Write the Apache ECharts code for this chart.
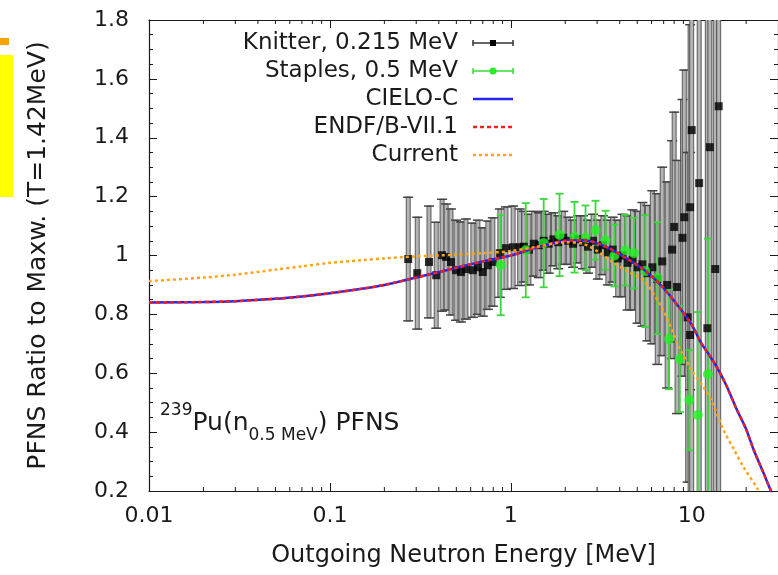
<!DOCTYPE html>
<html>
<head>
<meta charset="utf-8">
<script src="https://cdn.jsdelivr.net/npm/echarts@6/dist/echarts.min.js"></script>
<style>
  html, body { margin: 0; padding: 0; background: #fff; }
  #chart { width: 778px; height: 575px; }
</style>
</head>
<body>
<div id="chart"></div>
<script>
const FONT = 'DejaVu Sans';
const INK = '#1a1a1a';

// axis ticks
const xTickValues = [0.01, 0.1, 1, 10];
const xTickLabels = ['0.01', '0.1', '1', '10'];
const xMinorTicks = [0.02, 0.03, 0.04, 0.05, 0.06, 0.07, 0.08, 0.09,
  0.2, 0.3, 0.4, 0.5, 0.6, 0.7, 0.8, 0.9,
  2, 3, 4, 5, 6, 7, 8, 9, 20];
const yTickValues = [0.2, 0.4, 0.6, 0.8, 1, 1.2, 1.4, 1.6, 1.8];
const yTickLabels = ['0.2', '0.4', '0.6', '0.8', '1', '1.2', '1.4', '1.6', '1.8'];

// Knitter, 0.215 MeV  (energy, ratio, error)
const knitterE = [0.271, 0.304, 0.353, 0.387, 0.417, 0.439, 0.467, 0.498, 0.53, 0.565,
  0.617, 0.658, 0.70, 0.747, 0.796, 0.87, 0.94, 1.03, 1.12, 1.18,
  1.26, 1.34, 1.43, 1.52, 1.62, 1.72, 1.83, 1.95, 2.08, 2.21,
  2.36, 2.51, 2.67, 2.85, 3.03, 3.23, 3.44, 3.66, 3.90, 4.15,
  4.42, 4.71, 5.02, 5.34, 5.69, 6.06, 6.45, 6.87, 7.32, 7.80,
  8.0, 8.3, 8.9, 9.1, 9.5, 9.8, 9.8, 10.0, 11.0, 12.2,
  12.6, 13.5, 14.1];
const knitterV = [0.988, 0.94, 0.978, 0.933, 1.001, 0.995, 0.978, 0.95, 0.944, 0.954,
  0.95, 0.96, 0.944, 0.967, 0.978, 1.008, 1.025, 1.028, 1.028, 1.03,
  1.02, 1.04, 1.035, 1.05, 1.04, 1.055, 1.045, 1.06, 1.05, 1.04,
  1.055, 1.045, 1.03, 1.05, 1.02, 1.035, 1.01, 1.02, 0.99, 1.0,
  0.975, 0.985, 0.96, 0.97, 0.94, 0.96, 0.92, 0.98, 0.90, 1.02,
  1.097, 0.893, 1.06, 1.13, 0.79, 0.73, 1.164, 1.426, 1.246, 0.753,
  1.368, 0.954, 1.507];
const knitterErr = [0.21, 0.19, 0.19, 0.18, 0.19, 0.18, 0.18, 0.17, 0.17, 0.17,
  0.16, 0.16, 0.15, 0.15, 0.15, 0.15, 0.14, 0.14, 0.13, 0.12,
  0.12, 0.11, 0.11, 0.10, 0.10, 0.09, 0.09, 0.09, 0.08, 0.08,
  0.08, 0.09, 0.09, 0.09, 0.10, 0.10, 0.11, 0.11, 0.13, 0.14,
  0.16, 0.17, 0.19, 0.21, 0.23, 0.26, 0.29, 0.32, 0.35, 0.37,
  0.39, 0.43, 0.47, 0.50, 0.56, 0.62, 0.62, 1.8, 2.0, 2.0,
  2.0, 2.0, 2.0];

// Staples, 0.5 MeV
const staplesE = [0.88, 1.21, 1.52, 1.86, 2.25, 2.59, 2.94, 3.34, 3.74, 4.3,
  4.8, 5.54, 6.45, 7.5, 8.6, 9.7, 10.8, 12.3];
const staplesV = [0.967, 1.018, 1.042, 1.07, 1.062, 1.06, 1.086, 1.052, 1.0, 1.018,
  1.008, 0.947, 0.923, 0.716, 0.648, 0.509, 0.458, 0.597];
const staplesErr = [0.17, 0.16, 0.15, 0.14, 0.12, 0.11, 0.10, 0.10, 0.105, 0.12,
  0.12, 0.19, 0.19, 0.17, 0.18, 0.17, 0.35, 0.46];

// evaluations
const cieloE = [0.01, 0.02, 0.03, 0.05, 0.07, 0.1, 0.15, 0.2, 0.3, 0.5, 0.7, 1.0, 1.4, 2.0,
  2.5, 3.0, 3.65, 4.5, 5.5, 6.9, 8.5, 10, 11.2, 12.5, 13.8, 15.5, 17.8, 20, 22, 25, 27, 30];
const cieloV = [0.840, 0.842, 0.845, 0.853, 0.861, 0.872, 0.887, 0.900, 0.925, 0.958, 0.980,
  1.000, 1.028, 1.050, 1.052, 1.042, 1.018, 0.985, 0.950, 0.893, 0.825, 0.765, 0.706, 0.662,
  0.620, 0.560, 0.475, 0.410, 0.340, 0.260, 0.210, 0.150];
const endfE = [0.01, 0.02, 0.03, 0.05, 0.07, 0.1, 0.15, 0.2, 0.3, 0.5, 0.7, 1.0, 1.4, 2.0,
  2.5, 3.0, 3.65, 4.5, 5.5, 6.9, 8.5, 10, 11.2, 12.5, 13.8, 15.5, 17.8, 20, 22, 25, 27, 30];
const endfV = [0.840, 0.842, 0.845, 0.853, 0.861, 0.872, 0.887, 0.900, 0.925, 0.958, 0.980,
  1.000, 1.028, 1.050, 1.052, 1.042, 1.018, 0.985, 0.950, 0.893, 0.825, 0.765, 0.706, 0.662,
  0.620, 0.560, 0.475, 0.410, 0.340, 0.260, 0.210, 0.150];
const currentE = [0.01, 0.02, 0.03, 0.05, 0.07, 0.1, 0.15, 0.2, 0.3, 0.5, 0.7, 1.0, 1.4, 2.0,
  2.5, 3.0, 3.65, 4.5, 5.5, 7.0, 8.5, 10, 11.7, 13, 15, 17, 19.4, 23, 26, 30];
const currentV = [0.913, 0.925, 0.935, 0.952, 0.963, 0.975, 0.984, 0.990, 0.997, 1.003, 1.008,
  1.015, 1.030, 1.045, 1.040, 1.015, 0.978, 0.944, 0.912, 0.810, 0.690, 0.610, 0.550, 0.500,
  0.407, 0.345, 0.280, 0.210, 0.155, 0.100];

const zip = (a, b) => a.map((v, i) => [v, b[i]]);
const zip3 = (a, b, c) => a.map((v, i) => [v, b[i], c[i]]);

function errorBar(kind) {
  return function (params, api) {
    const e = api.value(0), v = api.value(1), d = api.value(2);
    const x = api.coord([e, v])[0];
    const top = api.coord([e, v + d])[1];
    const bot = api.coord([e, v - d])[1];
    if (kind === 'gray') {
      return {
        type: 'group',
        children: [
          { type: 'rect', shape: { x: x - 2, y: top, width: 4, height: bot - top },
            style: { fill: '#b4b4b4', stroke: '#3c3c3c', lineWidth: 0.8 } },
          { type: 'line', shape: { x1: x - 5, y1: top, x2: x + 5, y2: top },
            style: { stroke: '#444', lineWidth: 1.5 } },
          { type: 'line', shape: { x1: x - 5, y1: bot, x2: x + 5, y2: bot },
            style: { stroke: '#444', lineWidth: 1.5 } }
        ]
      };
    }
    return {
      type: 'group',
      children: [
        { type: 'line', shape: { x1: x, y1: top, x2: x, y2: bot },
          style: { stroke: '#3ad83a', lineWidth: 1.8 } },
        { type: 'line', shape: { x1: x - 4, y1: top, x2: x + 4, y2: top },
          style: { stroke: '#3ad83a', lineWidth: 1.8 } },
        { type: 'line', shape: { x1: x - 4, y1: bot, x2: x + 4, y2: bot },
          style: { stroke: '#3ad83a', lineWidth: 1.8 } }
      ]
    };
  };
}

const chart = echarts.init(document.getElementById('chart'));

const legendRows = [
  { name: 'Knitter, 0.215 MeV', y: 43 },
  { name: 'Staples, 0.5 MeV', y: 71 },
  { name: 'CIELO-C', y: 99 },
  { name: 'ENDF/B-VII.1', y: 127 },
  { name: 'Current', y: 155 }
];

const legendGraphics = [];
legendRows.forEach(row => {
  legendGraphics.push({
    type: 'text', x: 458, y: row.y,
    style: { text: row.name, font: '23px ' + FONT, fill: INK, align: 'right', verticalAlign: 'middle' }
  });
});
// legend samples
legendGraphics.push(
  { type: 'line', shape: { x1: 473, y1: 43, x2: 513, y2: 43 }, style: { stroke: '#333', lineWidth: 1.5 } },
  { type: 'line', shape: { x1: 473, y1: 40, x2: 473, y2: 46 }, style: { stroke: '#333', lineWidth: 1.5 } },
  { type: 'line', shape: { x1: 513, y1: 40, x2: 513, y2: 46 }, style: { stroke: '#333', lineWidth: 1.5 } },
  { type: 'rect', shape: { x: 490, y: 40, width: 6, height: 6 }, style: { fill: '#000' } },
  { type: 'line', shape: { x1: 473, y1: 71, x2: 513, y2: 71 }, style: { stroke: '#3ad83a', lineWidth: 1.5 } },
  { type: 'line', shape: { x1: 473, y1: 68, x2: 473, y2: 74 }, style: { stroke: '#3ad83a', lineWidth: 1.5 } },
  { type: 'line', shape: { x1: 513, y1: 68, x2: 513, y2: 74 }, style: { stroke: '#3ad83a', lineWidth: 1.5 } },
  { type: 'circle', shape: { cx: 493, cy: 71, r: 3.5 }, style: { fill: '#22f022' } },
  { type: 'line', shape: { x1: 473, y1: 99, x2: 513, y2: 99 }, style: { stroke: '#2424f0', lineWidth: 2.5 } },
  { type: 'line', shape: { x1: 473, y1: 127, x2: 513, y2: 127 }, style: { stroke: '#f02020', lineWidth: 2.5, lineDash: [4, 3] } },
  { type: 'line', shape: { x1: 473, y1: 155, x2: 513, y2: 155 }, style: { stroke: '#ffa31a', lineWidth: 2.5, lineDash: [3, 3] } }
);

const option = {
  animation: false,
  backgroundColor: '#fff',
  grid: { left: 149, top: 20, width: 631, height: 471 },
  xAxis: [
    {
      type: 'log', logBase: 10, min: 0.01, max: 30, position: 'bottom',
      axisLine: { show: true, lineStyle: { color: INK, width: 1.2 } },
      axisTick: { show: true, inside: true, length: 8, lineStyle: { color: INK } },
      axisLabel: {
        show: true, fontSize: 22, fontFamily: FONT, color: INK, margin: 14,
        showMaxLabel: false,
        formatter: v => {
          const i = xTickValues.findIndex(t => Math.abs(Math.log10(t) - Math.log10(v)) < 1e-6);
          return i >= 0 ? xTickLabels[i] : '';
        }
      },
      splitLine: { show: false },
      name: 'Outgoing Neutron Energy [MeV]', nameLocation: 'middle', nameGap: 53,
      nameTextStyle: { fontSize: 24, fontFamily: FONT, color: INK }
    },
    {
      type: 'log', logBase: 10, min: 0.01, max: 30, position: 'top',
      axisLine: { show: true, lineStyle: { color: INK, width: 1.2 } },
      axisTick: { show: true, inside: true, length: 8, lineStyle: { color: INK } },
      axisLabel: { show: false },
      splitLine: { show: false }
    }
  ],
  yAxis: [
    {
      type: 'value', min: 0.2, max: 1.8, interval: 0.2, position: 'left',
      axisLine: { show: true, lineStyle: { color: INK, width: 1.2 } },
      axisTick: { show: true, inside: true, length: 8, lineStyle: { color: INK } },
      minorTick: { show: true, splitNumber: 4, length: 4, lineStyle: { color: INK } },
      axisLabel: {
        fontSize: 22, fontFamily: FONT, color: INK, margin: 20,
        formatter: v => {
          const i = yTickValues.findIndex(t => Math.abs(t - v) < 1e-6);
          return i >= 0 ? yTickLabels[i] : '';
        }
      },
      splitLine: { show: false },
      name: 'PFNS Ratio to Maxw. (T=1.42MeV)', nameLocation: 'middle', nameGap: 98, nameRotate: 90,
      nameTextStyle: { fontSize: 25, fontFamily: FONT, color: INK }
    },
    {
      type: 'value', min: 0.2, max: 1.8, interval: 0.2, position: 'right',
      axisLine: { show: true, lineStyle: { color: INK, width: 1.2 } },
      axisTick: { show: true, inside: true, length: 8, lineStyle: { color: INK } },
      minorTick: { show: true, splitNumber: 4, length: 4, lineStyle: { color: INK } },
      axisLabel: { show: false },
      splitLine: { show: false }
    }
  ],
  graphic: [
    { type: 'rect', shape: { x: 0, y: 38, width: 9, height: 7 }, style: { fill: '#f5a300' } },
    { type: 'rect', shape: { x: 0, y: 55, width: 13, height: 142 }, style: { fill: '#ffff00' } },
    {
      type: 'text', x: 160, y: 402,
      style: {
        text: '{sup|239}{m|Pu(n}{sub|0.5 MeV}{m|) PFNS}',
        fill: INK,
        rich: {
          sup: { fontSize: 17, fontFamily: FONT, lineHeight: 17, verticalAlign: 'top', fill: INK },
          m: { fontSize: 25, fontFamily: FONT, lineHeight: 42, verticalAlign: 'middle', fill: INK },
          sub: { fontSize: 17, fontFamily: FONT, lineHeight: 17, verticalAlign: 'bottom', fill: INK }
        }
      }
    }
  ].concat(legendGraphics),
  series: [
    {
      name: 'x minor ticks', type: 'custom', silent: true,
      data: xMinorTicks.map(v => [v, 1]),
      renderItem: (params, api) => {
        const x = api.coord([api.value(0), 1])[0];
        const cs = params.coordSys;
        return {
          type: 'group',
          children: [
            { type: 'line', shape: { x1: x, y1: cs.y + cs.height, x2: x, y2: cs.y + cs.height - 4 }, style: { stroke: INK, lineWidth: 1 } },
            { type: 'line', shape: { x1: x, y1: cs.y, x2: x, y2: cs.y + 4 }, style: { stroke: INK, lineWidth: 1 } }
          ]
        };
      }
    },
    {
      name: 'Knitter errors', type: 'custom', clip: true,
      data: zip3(knitterE, knitterV, knitterErr),
      renderItem: errorBar('gray')
    },
    {
      name: 'Knitter, 0.215 MeV', type: 'scatter', symbol: 'rect', symbolSize: 8,
      itemStyle: { color: '#000' },
      data: zip(knitterE, knitterV)
    },
    {
      name: 'Staples errors', type: 'custom', clip: true,
      data: zip3(staplesE, staplesV, staplesErr),
      renderItem: errorBar('green')
    },
    {
      name: 'Staples, 0.5 MeV', type: 'scatter', symbol: 'circle', symbolSize: 10,
      itemStyle: { color: '#22f022' },
      data: zip(staplesE, staplesV)
    },
    {
      name: 'CIELO-C', type: 'line', showSymbol: false, smooth: 0.3,
      lineStyle: { color: '#2424f0', width: 2.5 },
      data: zip(cieloE, cieloV)
    },
    {
      name: 'ENDF/B-VII.1', type: 'line', showSymbol: false, smooth: 0.3,
      lineStyle: { color: '#f02020', width: 2.5, type: [4, 3] },
      data: zip(endfE, endfV)
    },
    {
      name: 'Current', type: 'line', showSymbol: false, smooth: 0.3,
      lineStyle: { color: '#ffa31a', width: 2.5, type: [3, 3] },
      data: zip(currentE, currentV)
    }
  ]
};

chart.setOption(option);
</script>
</body>
</html>
